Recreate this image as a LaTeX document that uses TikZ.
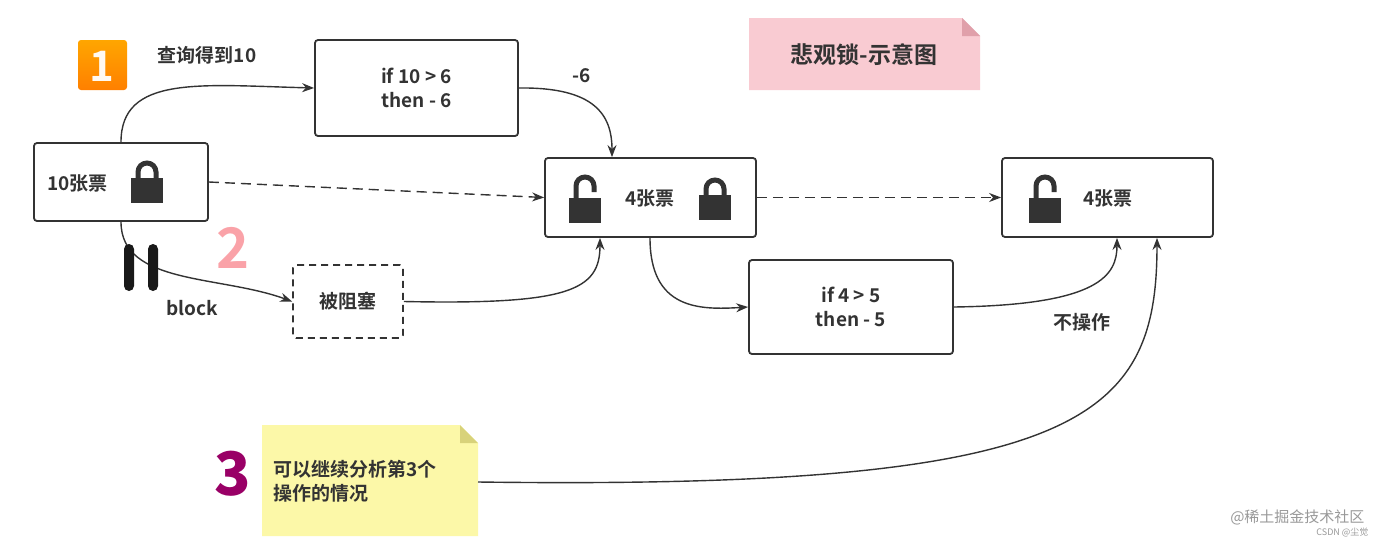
\documentclass[tikz,border=0pt]{standalone}
\usepackage{fontspec}
\setmainfont{Noto Sans CJK SC}[BoldFont={Noto Sans CJK SC Bold}]
\usetikzlibrary{arrows.meta}
\definecolor{ln}{HTML}{333333}
\definecolor{pk}{HTML}{F9CBD2}
\definecolor{pkd}{HTML}{E0A0AA}
\definecolor{yl}{HTML}{FCF8A8}
\definecolor{yld}{HTML}{D8D27A}
\tikzset{
 box/.style={draw=ln,line width=1.8pt,rounded corners=3pt,fill=white},
 conn/.style={draw=ln,line width=1.4pt,-{Stealth[length=12pt,width=9pt]}},
 dconn/.style={conn,dash pattern=on 10pt off 6pt},
 lbl/.style={font=\fontsize{19}{24}\selectfont\bfseries,text=ln,align=center},
 lockc/.pic={\fill[ln] (-16,0) rectangle (16,25);
   \draw[ln,line width=5pt] (-9,1) -- (-9,-6) arc[start angle=180,end angle=360,radius=9] -- (9,1);},
 locko/.pic={\fill[ln] (-16,0) rectangle (16,25);
   \draw[ln,line width=5pt] (-9,1) -- (-9,-12) arc[start angle=180,end angle=360,radius=9] -- (9,-6);},
}
\begin{document}
\begin{tikzpicture}[x=1pt,y=-1pt]
\useasboundingbox (0,0) rectangle (1385,544);
\fill[white] (0,0) rectangle (1385,544);
% notes
\fill[pk] (749,18) -- (962,18) -- (980,36) -- (980,90) -- (749,90) -- cycle;
\fill[pkd] (962,18) -- (962,36) -- (980,36) -- cycle;
\node[lbl,font=\fontsize{23}{27}\selectfont\bfseries] (title) at (864,55) {悲观锁-示意图};
\fill[yl] (262,425) -- (460,425) -- (478,443) -- (478,536) -- (262,536) -- cycle;
\fill[yld] (460,425) -- (460,443) -- (478,443) -- cycle;
\node[lbl,align=left,anchor=west] (note) at (270,481) {可以继续分析第3个\\操作的情况};
\coordinate (noteE) at (478,482);
% boxes
\node[box,minimum width=174pt,minimum height=78pt] (A) at (121,182) {};
\node[lbl,anchor=west] (At) at (44,183) {10张票};
\pic at (147,178) {lockc};
\node[box,minimum width=203pt,minimum height=96pt,lbl] (B) at (416.5,88) {if 10 > 6\\then - 6};
\node[box,minimum width=211pt,minimum height=79pt] (C) at (650.5,197.5) {};
\node[lbl] (Ct) at (650,198) {4张票};
\pic at (585,198) {locko};
\pic at (715,195) {lockc};
\node[box,minimum width=211pt,minimum height=79pt] (D) at (1107.5,197.5) {};
\node[lbl] (Dt) at (1108,198) {4张票};
\pic at (1045,198) {locko};
\node[box,dash pattern=on 7pt off 5pt,minimum width=110pt,minimum height=73pt,lbl] (E) at (348,301.5) {被阻塞};
\node[box,minimum width=204pt,minimum height=94pt,lbl] (F) at (851,307) {if 4 > 5\\then - 5};
% connectors
\draw[conn] (A.north) .. controls (121,75) and (200,85) .. (B.west);
\draw[dconn] (A.east) -- (C.west);
\draw[conn] (A.south) .. controls (121,285) and (220,275) .. (E.west);
\draw[conn] (B.east) .. controls (595,87) and (612,115) .. (C.north -| 612,0);
\draw[conn] (E.east) .. controls (570,305) and (600,290) .. (C.south -| 600,0);
\draw[dconn] (C.east) -- (D.west);
\draw[conn] (C.south -| 650,0) .. controls (650,310) and (700,310) .. (F.west);
\draw[conn] (F.east) .. controls (1100,305) and (1117,275) .. (D.south -| 1117,0);
\draw[conn] (noteE) .. controls (1080,490) and (1157,420) .. (D.south -| 1157,0);
% block bars
\fill[black!90,rounded corners=5pt] (124,244) rectangle (134,291);
\fill[black!90,rounded corners=5pt] (148,244) rectangle (158,291);
% labels
\node[lbl] (l1) at (207,55) {查询得到10};
\node[lbl] (l2) at (582,76) {-6};
\node[lbl] (l3) at (192,308) {block};
\node[lbl] (l4) at (1082,322) {不操作};
% icons
\shade[top color=orange!70!yellow,bottom color=orange,rounded corners=3pt] (78,40) rectangle (127,90);
\node[font=\fontsize{42}{42}\selectfont\bfseries,text=white!95!orange] (one) at (102,66) {1};
\node[font=\fontsize{56}{56}\selectfont\bfseries,text=pk!80!red] (two) at (233,248) {2};
\node[font=\fontsize{60}{60}\selectfont\bfseries\itshape,text=violet!80!red] (three) at (233,474) {3};
% watermark
\node[font=\fontsize{15}{17}\selectfont,text=gray!80,anchor=east] (wm) at (1368,517) {@稀土掘金技术社区};
\node[font=\fontsize{9}{10}\selectfont,text=gray!80,anchor=east] (wm2) at (1372,533) {CSDN @尘觉};
\end{tikzpicture}
\end{document}
